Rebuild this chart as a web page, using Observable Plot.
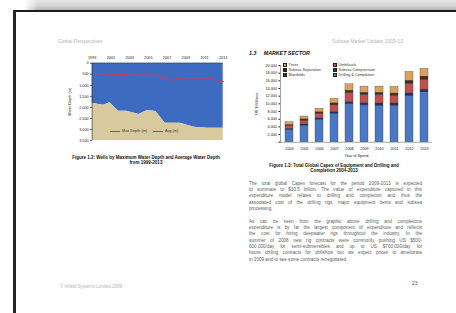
<!DOCTYPE html>
<html><head><meta charset="utf-8">
<script src="https://cdn.jsdelivr.net/npm/d3@7"></script>
<script src="https://cdn.jsdelivr.net/npm/@observablehq/plot@0.6"></script>
<style>
html,body{margin:0;padding:0;}
body{width:456px;height:313px;position:relative;overflow:hidden;background:#fff;font-family:"Liberation Sans",Arial,sans-serif;}
.abs{position:absolute;white-space:nowrap;}
#shadow{left:24px;top:0;width:432px;height:10px;background:linear-gradient(#e8e8e8,#d2d2d2 60%,#b4b4b4);-webkit-mask-image:linear-gradient(to right,transparent,#000 14px);mask-image:linear-gradient(to right,transparent,#000 14px);}
#topline{left:13px;top:10px;width:443px;height:2px;background:#1c1c1c;}
#leftline{left:13px;top:10px;width:3px;height:303px;background:#262626;}
.hdr{font-size:5px;color:#b4b4b4;}
.cap{font-size:4.5px;font-weight:bold;color:#111;text-align:center;width:200px;line-height:5px;}
.pl{left:249px;width:173px;height:6px;line-height:6px;font-size:4.6px;color:#606060;text-align:justify;text-align-last:justify;white-space:normal;overflow:hidden;}
.pl.last{text-align-last:left;}
.leg{font-size:3.8px;color:#333;line-height:4px;}
.mk{display:inline-block;width:2.4px;height:2.4px;border:0.4px solid #222;margin-right:1.2px;vertical-align:middle;}
svg text{font-family:"Liberation Sans",Arial,sans-serif;}
</style></head>
<body>
<div id="shadow" class="abs"></div>
<div id="topline" class="abs"></div>
<div id="leftline" class="abs"></div>
<div class="abs hdr" style="left:58px;top:38px;">Global Perspectives</div>
<div class="abs hdr" style="right:53px;top:38px;">Subsea Market Update 2009-13</div>
<div class="abs" style="left:249px;top:50px;font-size:5.3px;font-weight:bold;font-style:italic;color:#111;">1.3&nbsp;&nbsp;&nbsp;&nbsp;&nbsp;MARKET SECTOR</div>
<div id="leftChart" class="abs" style="left:40px;top:48px;"></div>
<div id="rightChart" class="abs" style="left:240px;top:55px;"></div>
<div id="leftLegend"></div>
<div id="rightLegend"></div>
<div class="abs cap" style="left:46px;top:155px;">Figure 1.2: Wells by Maximum Water Depth and Average Water Depth<br>from 1999-2013</div>
<div class="abs cap" style="left:234px;top:163px;">Figure 1.3: Total Global Capex of Equipment and Drilling and<br>Completion 2004-2013</div>
<div id="para"></div>
<div class="abs hdr" style="left:60px;top:284px;font-size:4.5px;">© Infield Systems Limited 2009</div>
<div class="abs" style="left:412px;top:280px;font-size:5px;color:#555;">23</div>
<script>
// ---- Figure 1.2 data ----
const depthYears = [1999, 1999.7, 2000.2, 2000.9, 2001.8, 2002.7, 2004.0, 2004.9, 2005.8, 2006.8, 2008.4, 2009.9, 2011.3, 2013];
const maxDepth   = [1810, 1870, 1900, 1790, 2170, 2170, 2320, 2140, 2190, 2715, 2715, 2900, 2940, 2940];
const avgYears   = [1999.3, 2001, 2003, 2005, 2006.3, 2006.9, 2007.6, 2008.3, 2010, 2011.5, 2013];
const avgDepth   = [470, 500, 530, 540, 560, 720, 770, 660, 650, 680, 830];
const yearTicks  = [1999, 2001, 2003, 2005, 2007, 2009, 2011, 2013];
const depthTicks = [0, 500, 1000, 1500, 2000, 2500, 3000, 3500];
const leftSeries = ["Max Depth (m)", "Avg (m)"];

// ---- Figure 1.3 data ----
const capexYears = ["2004","2005","2006","2007","2008","2009","2010","2011","2012","2013"];
const seriesNames = ["Drilling & Completion","Subsea Compression","Umbilicals","Manifolds","Subsea Separation","Trees"];
const drilling    = [3200, 4300, 5800, 7400, 9900, 9600, 9500, 9500, 12000, 13000];
const compression = [300, 400, 500, 500, 600, 600, 600, 600, 700, 700];
const umbilicals  = [700, 900, 1100, 1700, 2300, 2100, 2200, 2000, 2500, 2600];
const manifolds   = [250, 300, 350, 450, 550, 500, 500, 500, 650, 650];
const separation  = [50, 50, 50, 100, 100, 100, 100, 100, 150, 150];
const trees       = [700, 750, 900, 1150, 1650, 1600, 1600, 1700, 2300, 2000];
const capexTicks  = [0, 2000, 4000, 6000, 8000, 10000, 12000, 14000, 16000, 18000, 20000];
const legendOrder = ["Trees","Subsea Separation","Manifolds","Umbilicals","Subsea Compression","Drilling & Completion"];

const seriesColors = ["#4a78c6","#1f3566","#c0504d","#5a2323","#2a1a14","#d9a35f"];

const depthData = depthYears.map((y,i)=>({year:y, max:maxDepth[i]}));
const avgData = avgYears.map((y,i)=>({year:y, avg:avgDepth[i]}));
const seriesVals = [drilling, compression, umbilicals, manifolds, separation, trees];
const capexLong = [];
seriesNames.forEach((s,si)=>capexYears.forEach((y,i)=>capexLong.push({year:y, series:s, value:seriesVals[si][i]})));

const font = "Liberation Sans, Arial, sans-serif";
const blue = "#3d6bc2", tan = "#d8c99f", red = "#d03a5a";
const comma = d3.format(",");

const left = Plot.plot({
  width:190, height:100, marginLeft:51.7, marginRight:7.3, marginTop:14.7, marginBottom:8,
  style:{fontFamily:font, fontSize:"3.8px", color:"#222", background:"transparent", overflow:"visible"},
  x:{domain:[depthYears[0], depthYears[depthYears.length-1]]},
  y:{domain:[depthTicks[0], depthTicks[depthTicks.length-1]], reverse:true},
  marks:[
    Plot.areaY(depthData, {x:"year", y1:depthTicks[0], y2:"max", fill:blue}),
    Plot.areaY(depthData, {x:"year", y1:"max", y2:depthTicks[depthTicks.length-1], fill:tan}),
    Plot.line(avgData, {x:"year", y:"avg", stroke:red, strokeWidth:1.2}),
    Plot.axisX({anchor:"top", ticks:yearTicks, tickFormat:d=>String(d), tickSize:0, tickPadding:4.5, label:null}),
    Plot.axisY({ticks:depthTicks, tickFormat:d=>comma(d), tickSize:1.5, tickPadding:2, label:"Water Depth (m)", labelAnchor:"center", labelArrow:"none", labelOffset:24}),
    Plot.ruleX([depthYears[0]], {stroke:"#333", strokeWidth:0.6}),
    Plot.ruleY([depthTicks[0]], {stroke:"#444", strokeWidth:0.6})
  ]
});
document.getElementById("leftChart").append(left);

const right = Plot.plot({
  width:195, height:110, marginLeft:40, marginRight:3, marginTop:10, marginBottom:23.3,
  style:{fontFamily:font, fontSize:"3.8px", color:"#222", background:"transparent", overflow:"visible"},
  x:{type:"band", domain:capexYears, paddingInner:0.48, paddingOuter:0.2},
  y:{domain:[capexTicks[0], capexTicks[capexTicks.length-1]]},
  color:{domain:seriesNames, range:seriesColors},
  marks:[
    Plot.barY(capexLong, {x:"year", y:"value", fill:"series", stroke:"#2b2b2b", strokeWidth:0.3}),
    Plot.axisX({tickSize:0, tickPadding:5, label:"Year of Spend", labelAnchor:"center", labelArrow:"none", labelOffset:15}),
    Plot.axisY({ticks:capexTicks, tickFormat:d=>d===0?"-":comma(d), tickSize:1.5, tickPadding:2, label:"US $ Millions", labelAnchor:"center", labelArrow:"none", labelOffset:25}),
    Plot.ruleY([capexTicks[0]], {stroke:"#444", strokeWidth:0.5}),
    Plot.frame({anchor:"left", stroke:"#444", strokeWidth:0.5})
  ]
});
document.getElementById("rightChart").append(right);

// legends
const ll = document.getElementById("leftLegend");
const lcol = [blue, red];
const lpos = [[110,129], [153,129]];
leftSeries.forEach((s,i)=>{
  const d = document.createElement("div");
  d.className = "abs leg";
  d.style.left = lpos[i][0]+"px"; d.style.top = lpos[i][1]+"px";
  d.innerHTML = `<span style="display:inline-block;width:10px;height:1px;background:${lcol[i]};vertical-align:middle;margin-right:2px"></span>${s}`;
  ll.append(d);
});
const rl = document.getElementById("rightLegend");
legendOrder.forEach((s,i)=>{
  const col = Math.floor(i/3), row = i%3;
  const d = document.createElement("div");
  d.className = "abs leg";
  d.style.left = (283 + col*50)+"px"; d.style.top = (63 + row*5)+"px";
  d.innerHTML = `<span class="mk" style="background:${seriesColors[seriesNames.indexOf(s)]}"></span>${s}`;
  rl.append(d);
});

// paragraphs
const para1 = [
 "The total global Capex forecast for the period 2009-2013 is expected",
 "to summate to $30.5 billion. The value of expenditure captured in this",
 "expenditure model relates to drilling and completion and thus the",
 "associated cost of the drilling rigs, major equipment items and subsea",
 "processing."];
const para2 = [
 "As can be seen from the graphic above drilling and completions",
 "expenditure is by far the largest component of expenditure and reflects",
 "the cost for hiring deepwater rigs throughout the industry. In the",
 "summer of 2008 new rig contracts were commonly pushing US $500-",
 "600,000/day for semi-submersibles and up to US $700,000/day for",
 "future drilling contracts for drillships but we expect prices to ameliorate",
 "in 2009 and to see some contracts renegotiated."];
const pd = document.getElementById("para");
function addPara(lines, y0, step){
  lines.forEach((t,i)=>{
    const d = document.createElement("div");
    d.className = "abs pl" + (i===lines.length-1 ? " last" : "");
    d.style.top = (y0 + i*step - 3)+"px";
    d.textContent = t;
    pd.append(d);
  });
}
addPara(para1, 184, 6.2);
addPara(para2, 221.7, 6.3);
</script>
</body></html>
